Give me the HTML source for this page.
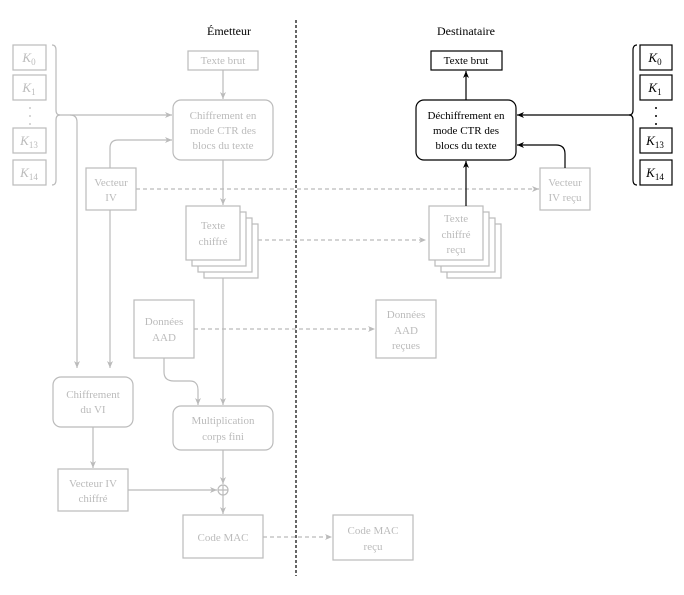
<!DOCTYPE html>
<html><head><meta charset="utf-8"><style>
body{margin:0;background:#fff}
svg{display:block}
text{font-family:"Liberation Serif",serif;font-size:11px;text-anchor:middle}
.k{font-size:13px;font-style:italic}
.k tspan{font-size:9px;font-style:normal}
.g{fill:#fff;stroke:#bbb;stroke-width:1.2}
.gt{fill:#bbb}
.gl{stroke:#bbb;stroke-width:1.2;fill:none}
.b{fill:#fff;stroke:#000;stroke-width:1.2}
.bl{stroke:#000;stroke-width:1.2;fill:none}
</style></head><body>
<svg width="684" height="595" viewBox="0 0 684 595" xmlns="http://www.w3.org/2000/svg">
<defs>
<marker id="ag" markerWidth="8" markerHeight="8" refX="7" refY="4" orient="auto" markerUnits="userSpaceOnUse"><path d="M0,1 L7,4 L0,7 L2,4z" fill="#bbb"/></marker>
<marker id="ab" markerWidth="8" markerHeight="8" refX="7" refY="4" orient="auto" markerUnits="userSpaceOnUse"><path d="M0,1 L7,4 L0,7 L2,4z" fill="#000"/></marker>
</defs>
<text x="229" y="35" style="font-size:12px">Émetteur</text>
<text x="466" y="35" style="font-size:12px">Destinataire</text>
<line x1="296" y1="20" x2="296" y2="576" stroke="#000" stroke-width="1.2" stroke-dasharray="3,2"/>

<g>
<rect class="g" x="13" y="45" width="33" height="25"/><text class="gt k" x="29" y="62">K<tspan dy="3">0</tspan></text>
<rect class="g" x="13" y="75" width="33" height="25"/><text class="gt k" x="29" y="92">K<tspan dy="3">1</tspan></text>
<circle cx="30" cy="108" r="0.9" fill="#bbb"/><circle cx="30" cy="116" r="0.9" fill="#bbb"/><circle cx="30" cy="124" r="0.9" fill="#bbb"/>
<rect class="g" x="13" y="128" width="33" height="25"/><text class="gt k" x="29" y="145">K<tspan dy="3">13</tspan></text>
<rect class="g" x="13" y="160" width="33" height="25"/><text class="gt k" x="29" y="177">K<tspan dy="3">14</tspan></text>
<path class="gl" d="M52,45 Q56,45 56,50 L56,110 Q56,115 60,115 Q56,115 56,120 L56,180 Q56,185 52,185"/>
</g>
<path class="gl" d="M58,115 L172,115" marker-end="url(#ag)"/>
<path class="gl" d="M70,115 Q77,115 77,122 L77,368" marker-end="url(#ag)"/>

<rect class="g" x="188" y="51" width="70" height="19"/><text class="gt" x="223" y="64">Texte brut</text>
<path class="gl" d="M223,70 L223,99" marker-end="url(#ag)"/>
<rect class="g" x="173" y="100" width="100" height="60" rx="8"/>
<text class="gt" x="223" y="119">Chiffrement en</text><text class="gt" x="223" y="134">mode CTR des</text><text class="gt" x="223" y="149">blocs du texte</text>

<rect class="g" x="86" y="168" width="50" height="42"/><text class="gt" x="111" y="186">Vecteur</text><text class="gt" x="111" y="201">IV</text>
<path class="gl" d="M110,168 L110,148 Q110,140 118,140 L172,140" marker-end="url(#ag)"/>
<path class="gl" d="M110,210 L110,368" marker-end="url(#ag)"/>
<path class="gl" d="M136,189 L539,189" stroke-dasharray="4,3" marker-end="url(#ag)"/>

<path class="gl" d="M223,160 L223,205" marker-end="url(#ag)"/>
<rect class="g" x="204" y="224" width="54" height="54"/>
<rect class="g" x="198" y="218" width="54" height="54"/>
<rect class="g" x="192" y="212" width="54" height="54"/>
<rect class="g" x="186" y="206" width="54" height="54"/>
<text class="gt" x="213" y="229">Texte</text><text class="gt" x="213" y="245">chiffré</text>
<path class="gl" d="M258,240 L426,240" stroke-dasharray="4,3" marker-end="url(#ag)"/>
<path class="gl" d="M223,278 L223,405" marker-end="url(#ag)"/>

<rect class="g" x="134" y="300" width="60" height="58"/><text class="gt" x="164" y="325">Données</text><text class="gt" x="164" y="341">AAD</text>
<path class="gl" d="M194,329 L375,329" stroke-dasharray="4,3" marker-end="url(#ag)"/>
<rect class="g" x="376" y="300" width="60" height="58"/><text class="gt" x="406" y="318">Données</text><text class="gt" x="406" y="334">AAD</text><text class="gt" x="406" y="349">reçues</text>
<path class="gl" d="M164,358 L164,372 Q164,381 174,381 L190,381 Q198,381 198,390 L198,405" marker-end="url(#ag)"/>

<rect class="g" x="53" y="377" width="80" height="50" rx="8"/><text class="gt" x="93" y="398">Chiffrement</text><text class="gt" x="93" y="413">du VI</text>
<rect class="g" x="173" y="406" width="100" height="44" rx="8"/><text class="gt" x="223" y="424">Multiplication</text><text class="gt" x="223" y="440">corps fini</text>
<path class="gl" d="M93,427 L93,468" marker-end="url(#ag)"/>
<rect class="g" x="58" y="469" width="70" height="42"/><text class="gt" x="93" y="487">Vecteur IV</text><text class="gt" x="93" y="502">chiffré</text>
<path class="gl" d="M128,490 L217,490" marker-end="url(#ag)"/>
<path class="gl" d="M223,450 L223,484" marker-end="url(#ag)"/>
<circle class="gl" cx="223" cy="490" r="5"/><path class="gl" d="M218,490 L228,490 M223,485 L223,495"/>
<path class="gl" d="M223,495 L223,514" marker-end="url(#ag)"/>
<rect class="g" x="183" y="515" width="80" height="43"/><text class="gt" x="223" y="541">Code MAC</text>
<path class="gl" d="M263,537 L332,537" stroke-dasharray="4,3" marker-end="url(#ag)"/>
<rect class="g" x="333" y="515" width="80" height="45"/><text class="gt" x="373" y="534">Code MAC</text><text class="gt" x="373" y="550">reçu</text>

<rect class="b" x="431" y="51" width="71" height="19"/><text x="466" y="64">Texte brut</text>
<path class="bl" d="M466,100 L466,71" marker-end="url(#ab)"/>
<rect class="b" x="416" y="100" width="100" height="60" rx="8"/>
<text x="466" y="119">Déchiffrement en</text><text x="466" y="134">mode CTR des</text><text x="466" y="149">blocs du texte</text>
<rect class="g" x="447" y="224" width="54" height="54"/>
<rect class="g" x="441" y="218" width="54" height="54"/>
<rect class="g" x="435" y="212" width="54" height="54"/>
<rect class="g" x="429" y="206" width="54" height="54"/>
<text class="gt" x="456" y="222">Texte</text><text class="gt" x="456" y="238">chiffré</text><text class="gt" x="456" y="253">reçu</text>
<path class="bl" d="M466,206 L466,161" marker-end="url(#ab)"/>
<rect class="g" x="540" y="168" width="50" height="42"/><text class="gt" x="565" y="186">Vecteur</text><text class="gt" x="565" y="201">IV reçu</text>
<path class="bl" d="M565,168 L565,154 Q565,145 556,145 L517,145" marker-end="url(#ab)"/>
<path class="bl" d="M630,115 L517,115" marker-end="url(#ab)"/>
<path class="bl" d="M637,45 Q633,45 633,50 L633,110 Q633,115 629,115 Q633,115 633,120 L633,180 Q633,185 637,185"/>
<rect class="b" x="640" y="45" width="32" height="25"/><text class="k" x="655" y="62">K<tspan dy="3">0</tspan></text>
<rect class="b" x="640" y="75" width="32" height="25"/><text class="k" x="655" y="92">K<tspan dy="3">1</tspan></text>
<circle cx="656" cy="108" r="1" fill="#000"/><circle cx="656" cy="116" r="1" fill="#000"/><circle cx="656" cy="124" r="1" fill="#000"/>
<rect class="b" x="640" y="128" width="32" height="25"/><text class="k" x="655" y="145">K<tspan dy="3">13</tspan></text>
<rect class="b" x="640" y="160" width="32" height="25"/><text class="k" x="655" y="177">K<tspan dy="3">14</tspan></text>
</svg>
</body></html>
